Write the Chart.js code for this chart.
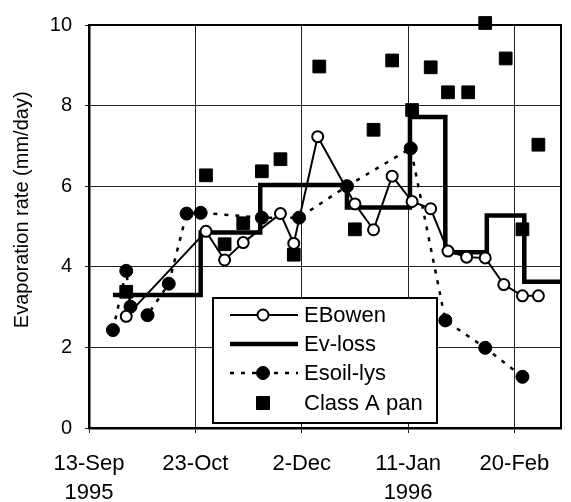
<!DOCTYPE html>
<html>
<head>
<meta charset="utf-8">
<script src="https://cdn.jsdelivr.net/npm/chart.js@4"></script>
<style>
  html, body { margin: 0; padding: 0; background: #fff; }
  canvas { display: block; }
</style>
</head>
<body>
<canvas id="evapChart" width="571" height="502"></canvas>
<script>
// x values are days after 13-Sep-1995
const tickDays = [0, 40, 80, 120, 160];
const tickLabels = ['13-Sep', '23-Oct', '2-Dec', '11-Jan', '20-Feb'];
const tickYears = ['1995', '', '', '1996', ''];

const bowenDays = [14, 44, 51, 58, 72, 77, 86, 100, 107, 114, 121.5, 128.5, 135, 142, 149, 156, 163, 169];
const bowenRate = [2.77, 4.88, 4.17, 4.6, 5.32, 4.58, 7.23, 5.56, 4.92, 6.25, 5.62, 5.44, 4.39, 4.24, 4.22, 3.56, 3.28, 3.28];

const lossDays = [9, 42, 64.4, 97, 120.7, 134, 149.6, 163.7, 177.5];
const lossRate = [3.3, 4.85, 6.03, 5.47, 7.72, 4.36, 5.27, 3.63, 3.63];

const soilDays = [9, 14, 15.6, 22, 30, 36.7, 42, 65, 79, 97, 121, 134, 149, 163];
const soilRate = [2.43, 3.9, 3.01, 2.8, 3.58, 5.32, 5.34, 5.22, 5.22, 6.0, 6.94, 2.67, 1.99, 1.27];

const panDays = [14, 44, 51, 58, 65, 72, 77, 86.6, 100, 107, 114, 121.5, 128.5, 135, 142.6, 149, 156.7, 163, 169];
const panRate = [3.38, 6.27, 4.56, 5.08, 6.37, 6.67, 4.3, 8.97, 4.93, 7.4, 9.12, 7.89, 8.95, 8.33, 8.33, 10.05, 9.17, 4.93, 7.03];

const fontFamily = "Arial, 'Liberation Sans', sans-serif";

function toPoints(xs, ys) {
    return xs.map((x, i) => ({ x, y: ys[i] }));
}

// frame round the plot area + legend box inside it
const frameAndLegend = {
    id: 'frameAndLegend',
    afterDatasetsDraw(chart) {
        const { ctx, chartArea } = chart;
        ctx.save();
        ctx.strokeStyle = '#000';
        ctx.lineWidth = 2;
        ctx.strokeRect(chartArea.left, chartArea.top, chartArea.right - chartArea.left, chartArea.bottom - chartArea.top);

        const box = { x: 213, y: 298, w: 224, h: 125 };
        ctx.fillStyle = '#fff';
        ctx.fillRect(box.x, box.y, box.w, box.h);
        ctx.lineWidth = 2;
        ctx.strokeRect(box.x, box.y, box.w, box.h);

        const rows = [315, 344, 373, 403];
        const x0 = 230, x1 = 298, xm = 263;
        ctx.font = `22px ${fontFamily}`;
        ctx.textBaseline = 'middle';
        chart.data.datasets.forEach((ds, i) => {
            const y = rows[i];
            if (ds.showLine !== false) {
                ctx.beginPath();
                ctx.setLineDash(ds.borderDash || []);
                ctx.lineWidth = ds.borderWidth;
                ctx.strokeStyle = '#000';
                ctx.moveTo(x0, y);
                ctx.lineTo(x1, y);
                ctx.stroke();
                ctx.setLineDash([]);
            }
            if (ds.pointRadius > 0) {
                ctx.beginPath();
                ctx.fillStyle = ds.pointBackgroundColor;
                ctx.strokeStyle = '#000';
                ctx.lineWidth = ds.pointBorderWidth;
                if (ds.pointStyle === 'rect') {
                    ctx.rect(xm - 6.5, y - 6.5, 13, 13);
                } else {
                    ctx.arc(xm, y, ds.pointRadius, 0, Math.PI * 2);
                }
                ctx.fill();
                ctx.stroke();
            }
            ctx.fillStyle = '#000';
            ctx.fillText(ds.label, 304, y + 1);
        });
        ctx.restore();
    },
};

const ctx = document.querySelector('#evapChart').getContext('2d');
new Chart(ctx, {
    type: 'line',
    data: {
        datasets: [{
            label: 'EBowen',
            data: toPoints(bowenDays, bowenRate),
            borderColor: '#000',
            borderWidth: 2,
            pointRadius: 5.5,
            pointBackgroundColor: '#fff',
            pointBorderColor: '#000',
            pointBorderWidth: 2,
        }, {
            label: 'Ev-loss',
            data: toPoints(lossDays, lossRate),
            borderColor: '#000',
            borderWidth: 4.5,
            stepped: 'before',
            pointRadius: 0,
        }, {
            label: 'Esoil-lys',
            data: toPoints(soilDays, soilRate),
            borderColor: '#000',
            borderWidth: 2.5,
            borderDash: [4, 7],
            pointRadius: 6.5,
            pointBackgroundColor: '#000',
            pointBorderColor: '#000',
            pointBorderWidth: 1,
        }, {
            label: 'Class A pan',
            data: toPoints(panDays, panRate),
            showLine: false,
            pointStyle: 'rect',
            pointRadius: 9,
            pointBackgroundColor: '#000',
            pointBorderColor: '#000',
            pointBorderWidth: 1,
            clip: false,
        }],
    },
    options: {
        responsive: false,
        animation: false,
        layout: {
            padding: { top: 21, right: 3, left: 0, bottom: 0 },
        },
        plugins: {
            legend: { display: false },
            tooltip: { enabled: false },
        },
        scales: {
            x: {
                type: 'linear',
                min: 0,
                max: 177.5,
                afterBuildTicks: (scale) => {
                    scale.ticks = tickDays.map((v) => ({ value: v }));
                },
                afterFit: (scale) => { scale.height = 74; },
                grid: {
                    color: '#222',
                    lineWidth: 1,
                    tickLength: 5,
                },
                border: { color: '#000', width: 2.5 },
                ticks: {
                    color: '#000',
                    padding: 17,
                    maxRotation: 0,
                    font: { family: fontFamily, size: 22, lineHeight: 1.3 },
                    callback: (value) => {
                        const i = tickDays.indexOf(value);
                        return i < 0 ? '' : [tickLabels[i], tickYears[i]];
                    },
                },
            },
            y: {
                min: 0,
                max: 10,
                afterFit: (scale) => { scale.width = 89; },
                grid: {
                    color: '#222',
                    lineWidth: 1,
                    tickLength: 4,
                },
                border: { color: '#000', width: 2.5 },
                ticks: {
                    stepSize: 2,
                    color: '#000',
                    padding: 13,
                    font: { family: fontFamily, size: 20 },
                },
                title: {
                    display: true,
                    text: '      Evaporation rate (mm/day)',
                    color: '#000',
                    padding: { top: 10, bottom: 0 },
                    font: { family: fontFamily, size: 20 },
                },
            },
        },
    },
    plugins: [frameAndLegend],
});
</script>
</body>
</html>
